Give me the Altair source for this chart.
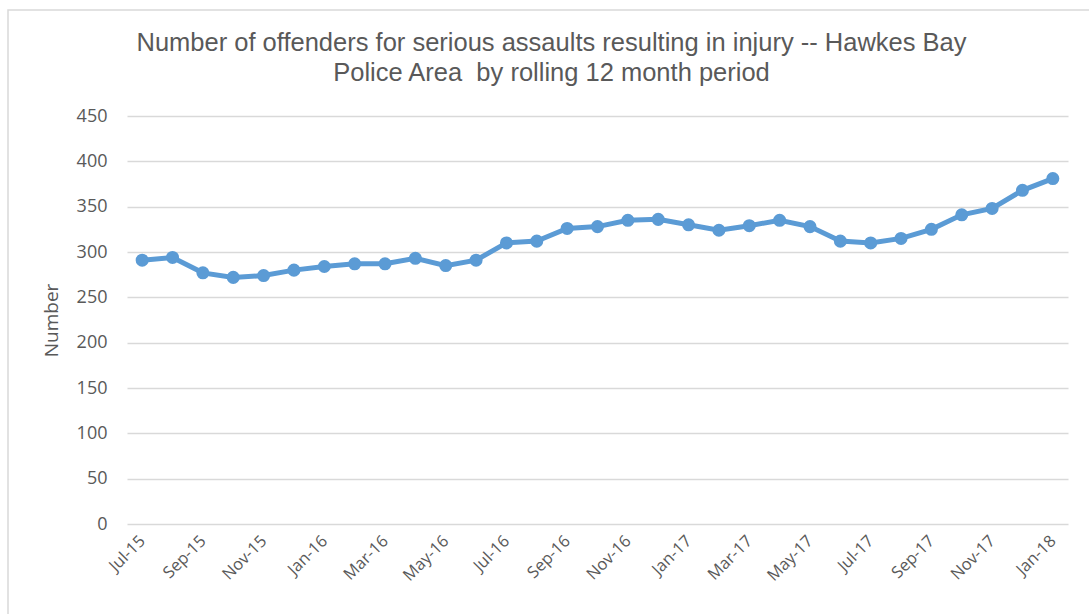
import altair as alt
import pandas as pd

months = ["Jul-15", "Aug-15", "Sep-15", "Oct-15", "Nov-15", "Dec-15",
          "Jan-16", "Feb-16", "Mar-16", "Apr-16", "May-16", "Jun-16",
          "Jul-16", "Aug-16", "Sep-16", "Oct-16", "Nov-16", "Dec-16",
          "Jan-17", "Feb-17", "Mar-17", "Apr-17", "May-17", "Jun-17",
          "Jul-17", "Aug-17", "Sep-17", "Oct-17", "Nov-17", "Dec-17",
          "Jan-18"]
values = [291, 294, 277, 272, 274, 280,
          284, 287, 287, 293, 285, 291,
          310, 312, 326, 328, 335, 336,
          330, 324, 329, 335, 328, 312,
          310, 315, 325, 341, 348, 368,
          381]
shown_labels = months[::2]
y_ticks = [0, 50, 100, 150, 200, 250, 300, 350, 400, 450]
title_lines = ["Number of offenders for serious assaults resulting in injury -- Hawkes Bay",
               "Police Area \u00a0by rolling 12 month period"]

df = pd.DataFrame({"month": months, "value": values})

W, H = 941, 408
LEFT, TOP = 127, 116

label_expr = "indexof(" + str(shown_labels).replace("'", '"') + ", datum.value) >= 0 ? datum.value : ''"

x = alt.X("month:N", sort=months,
          scale=alt.Scale(type="point", padding=0.5),
          axis=alt.Axis(title=None, labelAngle=-45, labelAlign="right",
                        labelBaseline="middle", labelExpr=label_expr,
                        labelOverlap=False, ticks=False, domain=False,
                        labelPadding=14, labelFont="Open Sans",
                        labelFontSize=16.5, labelColor="#595959", grid=False))
y = alt.Y("value:Q", scale=alt.Scale(domain=[0, 450], nice=False),
          axis=alt.Axis(title="Number", values=y_ticks, ticks=False,
                        domain=False, labelPadding=20, labelFont="Open Sans",
                        labelFontSize=18, labelColor="#595959",
                        titleFont="Open Sans", titleFontSize=19,
                        titleFontWeight="normal", titleColor="#595959",
                        titlePadding=15, gridColor="#D9D9D9", gridWidth=1.3))

line = alt.Chart(df).mark_line(color="#5B9BD5", strokeWidth=5).encode(x=x, y=y)
pts = alt.Chart(df).mark_point(filled=True, opacity=1, color="#5B9BD5",
                               size=170).encode(x=x, y=y)

frame = alt.Chart(pd.DataFrame({"a": [0]})).mark_rect(
    fill=None, stroke="#D9D9D9", strokeWidth=1.5).encode(
    x=alt.value(8 - LEFT), y=alt.value(10 - TOP),
    x2=alt.value(1089 - LEFT + 10), y2=alt.value(614 - TOP + 10))

chart = alt.layer(frame, line, pts).properties(
    width=W, height=H,
    background="white",
    title=alt.TitleParams(
        text=title_lines,
        font="Liberation Sans", fontSize=25.5, fontWeight="normal",
        color="#595959", anchor="middle", dx=-46, offset=-77, lineHeight=30),
    autosize=alt.AutoSizeParams(type="none"),
    padding={"left": LEFT, "top": TOP, "right": 1089 - LEFT - W,
             "bottom": 614 - TOP - H},
).configure_view(stroke=None)

chart.save("out.html", embed_options={"renderer": "svg", "actions": False})
